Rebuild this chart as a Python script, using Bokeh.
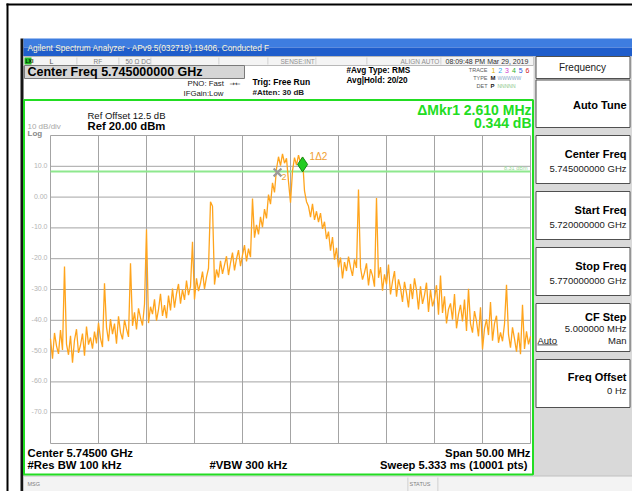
import numpy as np
from bokeh.plotting import figure
from bokeh.models import Range1d
from bokeh.core.properties import value
from bokeh.embed import file_html
from bokeh.resources import INLINE

# ---------------- data ----------------
start_freq_mhz = 5720.0
stop_freq_mhz = 5770.0
ref_level_dbm = 20.0
db_per_div = 10.0
n_divs = 10

# trace levels (dBm), evenly swept from start to stop frequency
levels = [
    # 5720 .. ~5724
    -46.0, -52.5, -44.1, -48.3, -50.9, -43.2, -49.6, -22.5, -47.7, -51.2,
    -45.0, -53.8, -46.4, -42.9, -50.6, -48.1, -44.3, -51.5, -42.0, -47.9, -45.6,
    # ~5724 .. 5728
    -49.2, -43.7, -47.5, -40.8, -45.9, -48.7, -28.0, -42.2, -46.8, -39.6,
    -44.5, -41.1, -47.6, -38.7, -43.9, -46.2, -39.9, -42.8, -45.4, -21.5,
    # 5728 .. 5732
    -41.8, -37.4, -43.0, -36.1, -39.2, -41.7, -34.8, -10.5, -40.9, -35.6,
    -38.0, -33.2, -40.1, -36.5, -31.4, -38.6, -35.1, -39.3, -32.0, -36.8,
    # 5732 .. 5736
    -29.7, -35.9, -31.3, -28.2, -34.6, -30.0, -33.4, -27.1, -31.8, -29.0,
    -14.5, -33.2, -26.4, -30.5, -27.9, -24.2, -29.8, -26.0, -23.1, -1.5,
    # 5736 .. 5740
    -3.0, -28.4, -23.5, -26.1, -20.7, -24.9, -22.0, -19.2, -25.3, -21.4,
    -18.0, -23.8, -20.1, -17.2, -22.4, -18.8, -15.6, -20.9, -16.7, -19.5,
    # rising edge
    -0.5, -13.2, -9.0, -12.1, -6.4, -9.8, -3.9, -6.9, 0.8, -2.3, 4.6, 1.5, 9.2,
    # top of the signal
    13.1, 10.2, 14.0, 11.0, 12.6, 5.0, -1.8, 8.5, 12.8, 10.4, 13.6, 11.2, 12.9, 2.0, -1.5,
    # falling edge
    -3.0, -6.5, -2.2, -7.4, -4.6, -8.1, -5.2, -10.3, -8.0, -13.6,
    -11.2, -17.4, -13.0, -20.3, -16.5, -22.8, -19.6, -26.4, -21.1, -24.0,
    -19.3, -22.8, -25.6, -20.2, -23.0,
    2.5,
    -22.9, -26.8, -24.5, -21.5, -28.7, -23.4, -25.5, -29.1, -0.3, -26.2,
    -22.7, -30.4, -25.1, -28.3, -21.9, -31.6, -27.4, -24.0, -32.3, -26.7, -29.5,
    # 5756 .. 5760
    -34.0, -27.5, -31.2, -35.8, -28.2, -33.1, -26.4, -30.2, -36.5, -29.0,
    -34.7, -31.8, -27.8, -37.3, -30.1, -35.5, -33.0, -28.6, -38.2, -25.5,
    # 5760 .. 5763
    -37.6, -32.2, -41.0, -36.4, -34.5, -39.8, -31.5, -42.6, -38.0, -35.0,
    -40.4, -33.3, -43.5, -29.8, -41.1,
    # 5763 .. 5766
    -44.0, -37.0, -40.3, -45.2, -35.8, -49.5, -42.7, -39.7, -44.8, -34.1,
    -46.6, -41.0, -38.5, -47.3, -43.9,
    # 5766 .. 5770
    -46.8, -41.2, -28.5, -44.6, -48.9, -42.3, -46.0, -50.2, -44.0, -51.0,
    -35.0, -49.3, -43.6, -47.8, -45.2,
]

freq_ticks = [5720, 5725, 5730, 5735, 5740, 5745, 5750, 5755, 5760, 5765, 5770]
level_ticks = [20, 10, 0, -10, -20, -30, -40, -50, -60, -70, -80]
level_tick_labels = ["", "10.0", "0.00", "-10.0", "-20.0", "-30.0", "-40.0",
                     "-50.0", "-60.0", "-70.0", ""]
display_line_dbm = 8.31
marker_freqs = [5746.26, 5743.65]      # marker 1 (delta), marker 2 (reference)
marker_levels = [10.6, 8.0]

softkeys = [("Center Freq", "5.745000000 GHz"), ("Start Freq", "5.720000000 GHz"),
            ("Stop Freq", "5.770000000 GHz")]

freqs = np.linspace(start_freq_mhz, stop_freq_mhz, len(levels))

# ---------------- geometry ----------------
W, H, OFF = 632, 491, 0
GL, GR, GT, GB = 50, 530, 135, 443   # graticule in page pixels
bottom_level = ref_level_dbm - db_per_div * n_divs
ppm = (GR - GL) / (stop_freq_mhz - start_freq_mhz)
ppd = (GB - GT) / (ref_level_dbm - bottom_level)
f0 = start_freq_mhz - (GL - OFF) / ppm
f1 = stop_freq_mhz + (W - (GR - OFF)) / ppm
d_top = ref_level_dbm + (GT - OFF) / ppd
d_bot = bottom_level - (H - (GB - OFF)) / ppd

FONT = "Liberation Sans"

p = figure(width=W, height=H, x_range=Range1d(0, W), y_range=Range1d(H, 0),
           output_backend="svg", toolbar_location=None, min_border=0,
           x_axis_type=None, y_axis_type=None, title=None)
p.outline_line_color = None
p.background_fill_color = "white"
p.border_fill_color = "white"
p.extra_x_ranges = {"freq": Range1d(f0, f1)}
p.extra_y_ranges = {"dbm": Range1d(d_bot, d_top)}


def rect(x0, y0, x1, y1, fill, line=None, lw=1):
    p.quad(left=[x0 - OFF], right=[x1 - OFF], top=[y0 - OFF], bottom=[y1 - OFF],
           fill_color=fill, line_color=line, line_width=lw)


def txt(x, y, s, size, color="black", bold=False, align="left", font=FONT, italic=False):
    style = "bold" if bold else ("italic" if italic else "normal")
    p.text(x=[x - OFF], y=[y - OFF], text=[s], text_font=value(font),
           text_font_size=f"{size}px", text_color=color, text_align=align,
           text_baseline="middle", text_font_style=style)


# outer frame
rect(6, 3, 632, 5, "black")
rect(6, 3, 8, 491, "black")
# window border + title bar
rect(20, 38, 23, 491, "#151515")
rect(23, 38, 632, 47, "#3e7de0")
rect(23, 47, 632, 56, "#1f5dcb")
txt(27, 47, "Agilent Spectrum Analyzer - APv9.5(032719).19406, Conducted F", 8.3, "#fff8d8")

# status row
rect(23, 56, 533, 65, "#f4f4f4", "#b8b8b8")
for dx in [76, 118, 150, 218, 267, 315, 366, 440]:
    rect(dx, 57, dx + 0.8, 64, "#c8c8c8")
rect(24, 57, 31, 64, "#22bb22")
txt(25, 60.5, "LXI", 5, "#002200", bold=True)
txt(49, 60.5, "L", 7, "#505050")
txt(93, 60.5, "RF", 6.5, "#808080")
txt(125, 60.5, "50 \u03a9   DC", 6.5, "#808080")
txt(280, 60.5, "SENSE:INT", 6.5, "#909090")
txt(400, 60.5, "ALIGN AUTO", 6.5, "#909090")
txt(445, 60.5, "08:09:48 PM Mar 29, 2019", 7, "#303030")

# center freq box
rect(24, 65, 244, 78, "#d6d6d6", "#7a7a7a")
txt(27, 71.5, "Center Freq 5.745000000 GHz", 12.5, "black", bold=True)

# setup info
txt(187, 83, "PNO: Fast", 7.8, "#202020")
txt(229, 83, "\u2192\u2190", 6.5, "#202020", font="DejaVu Sans")
txt(183, 93, "IFGain:Low", 7.8, "#202020")
txt(252, 81.5, "Trig: Free Run", 8.5, "black", bold=True)
txt(252, 92, "#Atten: 30 dB", 8, "#202020", bold=True)
txt(346, 70, "#Avg Type: RMS", 8.2, "black", bold=True)
txt(346, 80, "Avg|Hold: 20/20", 8.2, "black", bold=True)
txt(487, 69, "TRACE", 5.5, "#606060", align="right")
for i, c in enumerate(["#e0b000", "#30a8f0", "#d040d0", "#30b030", "#3050e0", "#d02020"]):
    txt(491 + 6.8 * i, 69.5, str(i + 1), 7, c)
txt(487, 77.5, "TYPE", 5.5, "#606060", align="right")
txt(490, 77.5, "M", 6, "#202020", bold=True)
txt(497, 77.5, "WWWWW", 5, "#8aa8c8")
txt(487, 85.5, "DET", 5.5, "#606060", align="right")
txt(490, 85.5, "P", 6, "#202020", bold=True)
txt(497, 85.5, "NNNNN", 5, "#8ac88a")

# right soft key panel
rect(533, 56, 632, 476, "#d9d9d9")
rect(535.5, 56, 629.5, 78, "white", "#505050")
txt(582, 67, "Frequency", 10, "#202020", align="center")
rect(535.5, 79.5, 629.5, 127, "white", "#505050")
txt(626, 104, "Auto Tune", 11, "black", bold=True, align="right")
for i, (name, val) in enumerate(softkeys):
    y0 = 135 + 56 * i
    rect(535.5, y0, 629.5, y0 + 48, "white", "#505050")
    txt(626, y0 + 18, name, 11, "black", bold=True, align="right")
    txt(626, y0 + 33, val, 9.5, "#202020", align="right")
rect(535.5, 303, 629.5, 351, "white", "#505050")
txt(626, 316, "CF Step", 11, "black", bold=True, align="right")
txt(626, 327.5, "5.000000 MHz", 9.5, "#202020", align="right")
txt(537, 339.5, "Auto", 9.5, "#202020")
rect(537, 344, 557, 344.8, "#202020")
txt(626, 339.5, "Man", 9.5, "#202020", align="right")
rect(535.5, 359, 629.5, 407, "white", "#505050")
txt(626, 376, "Freq Offset", 11, "black", bold=True, align="right")
txt(626, 390, "0 Hz", 9.5, "#202020", align="right")

# message row
rect(23, 475.5, 632, 492, "#f3f3f3", "#c0c0c0")
rect(407, 477, 407.8, 491, "#c8c8c8")
rect(437, 477, 437.8, 491, "#c8c8c8")
txt(27, 483, "MSG", 5.5, "#808080")
txt(409, 483, "STATUS", 5.5, "#808080")

# green measurement box
p.quad(left=[23.5 - OFF], right=[532.5 - OFF], top=[99.5 - OFF], bottom=[474 - OFF],
       fill_color=None, line_color="#22dd22", line_width=2)

txt(87, 115, "Ref Offset 12.5 dB", 9.5, "#101010")
txt(87, 125.5, "Ref 20.00 dBm", 11.3, "black", bold=True)
txt(27, 126, "10 dB/div", 8, "#a8a8a8")
txt(27, 133, "Log", 8, "#888888", bold=True)
txt(531, 109, "\u0394Mkr1 2.610 MHz", 14, "#22dd22", bold=True, align="right")
txt(531, 122, "0.344 dB", 14, "#22dd22", bold=True, align="right")

txt(27, 452, "Center 5.74500 GHz", 11.3, "black", bold=True)
txt(27, 464.5, "#Res BW 100 kHz", 11.3, "black", bold=True)
txt(209, 464.5, "#VBW 300 kHz", 11.3, "black", bold=True)
txt(530, 452, "Span 50.00 MHz", 11.3, "black", bold=True, align="right")
txt(530, 464.5, "Sweep  5.333 ms (10001 pts)", 11.2, "black", bold=True, align="right")

# graticule
nf, nl = len(freq_ticks), len(level_ticks)
p.segment(x0=freq_ticks, x1=freq_ticks, y0=[min(level_ticks)] * nf, y1=[max(level_ticks)] * nf,
          x_range_name="freq", y_range_name="dbm", line_color="#a4a4a4", line_width=1)
p.segment(x0=[min(freq_ticks)] * nl, x1=[max(freq_ticks)] * nl, y0=level_ticks, y1=level_ticks,
          x_range_name="freq", y_range_name="dbm", line_color="#a4a4a4", line_width=1)
p.text(x=[47 - OFF] * nl, y=level_ticks, text=level_tick_labels, y_range_name="dbm",
       text_font=value(FONT), text_font_size="7px", text_color="#b4b4b4",
       text_align="right", text_baseline="middle", y_offset=-1)

# display line
p.line(x=[start_freq_mhz, stop_freq_mhz], y=[display_line_dbm] * 2,
       x_range_name="freq", y_range_name="dbm", line_color="#8ee88e", line_width=2)
p.text(x=[stop_freq_mhz], y=[display_line_dbm], text=[f"{display_line_dbm:.2f} dBm"],
       x_range_name="freq", y_range_name="dbm", text_font=value(FONT),
       text_font_size="5.5px", text_color="#9bd89b", text_align="right",
       text_baseline="bottom", x_offset=-3, y_offset=-1)

# trace
p.line(x=freqs, y=levels, x_range_name="freq", y_range_name="dbm",
       line_color="#FFA41C", line_width=1.3)

# markers
p.scatter(x=[marker_freqs[1]], y=[marker_levels[1]], marker="x", size=11,
          x_range_name="freq", y_range_name="dbm", line_color="#9a9a9a", line_width=2.2)
p.scatter(x=[marker_freqs[0]], y=[marker_levels[0]], marker="diamond", size=15,
          x_range_name="freq", y_range_name="dbm", fill_color="#22cc22", line_color="#118811")
p.text(x=[marker_freqs[1]], y=[marker_levels[1]], text=["2"], x_range_name="freq",
       y_range_name="dbm", text_font=value(FONT), text_font_size="9px",
       text_color="#F0A030", x_offset=4, y_offset=5, text_baseline="middle")
p.text(x=[marker_freqs[0]], y=[marker_levels[0]], text=["1\u03942"], x_range_name="freq",
       y_range_name="dbm", text_font=value(FONT), text_font_size="10px",
       text_color="#F0A030", x_offset=7, y_offset=-8, text_baseline="middle")

open("out.html", "w").write(file_html(p, INLINE))
